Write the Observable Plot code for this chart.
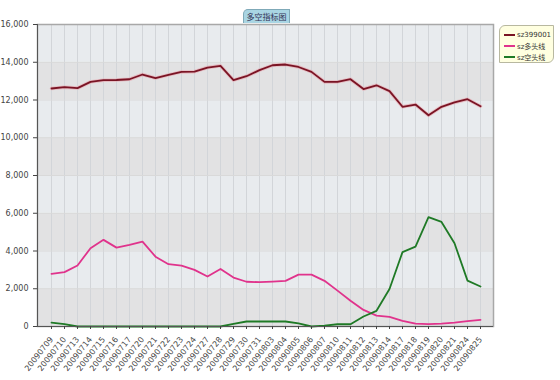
<!DOCTYPE html>
<html><head><meta charset="utf-8">
<script src="https://cdn.jsdelivr.net/npm/d3@7"></script>
<script src="https://cdn.jsdelivr.net/npm/@observablehq/plot@0.6"></script>
<style>
body{margin:0;background:#fff;}
#wrap{position:relative;width:560px;height:380px;font-family:"DejaVu Sans",sans-serif;}
#title{position:absolute;left:243px;top:9px;width:47px;height:14px;box-sizing:border-box;background:#a9d5e3;border:1px solid #7fa9b8;border-bottom:none;border-top-left-radius:5px;font:8px "Noto Sans CJK SC",sans-serif;color:#335;text-align:center;line-height:13px;}
#legend{position:absolute;left:499px;top:25px;width:55px;height:38px;box-sizing:border-box;background:#ffffe0;border:1px solid #b8b8a0;border-top-left-radius:6px;border-bottom-right-radius:6px;padding:3px 0 0 4px;}
.li{display:flex;align-items:center;height:11px;font:7px "DejaVu Sans","Noto Sans CJK SC",sans-serif;color:#333;}
.sw{display:inline-block;width:11px;height:2px;margin-right:2px;}
</style></head><body><div id="wrap"><div id="plot"></div><div id="title"></div><div id="legend"></div></div>
<script>
const titleText = "多空指标图";
const dates = ["20090709","20090710","20090713","20090714","20090715","20090716","20090717","20090720","20090721","20090722","20090723","20090724","20090727","20090728","20090729","20090730","20090731","20090803","20090804","20090805","20090806","20090807","20090810","20090811","20090812","20090813","20090814","20090817","20090818","20090819","20090820","20090821","20090824","20090825"];
const sz399001 = [12610,12680,12630,12960,13050,13060,13100,13350,13160,13330,13490,13500,13720,13810,13050,13260,13580,13840,13880,13750,13490,12960,12960,13100,12580,12780,12470,11640,11760,11190,11640,11870,12040,11670];
const duoLine = [2790,2880,3230,4150,4590,4180,4320,4500,3700,3300,3230,3000,2650,3050,2590,2370,2350,2380,2420,2750,2750,2420,1900,1360,880,580,510,300,150,130,150,210,290,350];
const kongLine = [200,130,0,0,0,0,0,0,0,0,0,0,0,0,140,265,265,265,265,160,0,50,120,120,530,830,1990,3940,4230,5790,5540,4410,2430,2120];
const yTicks = [0,2000,4000,6000,8000,10000,12000,14000,16000];
const seriesNames = ["sz399001","sz多头线","sz空头线"];
const seriesColors = ["#7a1424","#e0338c","#1f7a26"];

const seriesValues = [sz399001, duoLine, kongLine];
const rows = seriesValues.flatMap((vals, s) => vals.map((v, i) => ({date: dates[i], value: v, series: seriesNames[s]})));
const bands = yTicks.slice(0, -1).map((t, i) => ({lo: t, hi: yTicks[i + 1], dark: i % 2 === 0}));

const chart = Plot.plot({
  width: 560, height: 380,
  marginLeft: 37, marginRight: 67, marginTop: 24, marginBottom: 54,
  style: {fontFamily: "DejaVu Sans, sans-serif", background: "transparent"},
  x: {type: "point", domain: dates, padding: 0.6},
  y: {domain: [0, 16000]},
  color: {domain: seriesNames, range: seriesColors},
  marks: [
    Plot.rect(bands, {y1: "lo", y2: "hi", fill: d => d.dark ? "#e2e2e3" : "#e8ebee"}),
    Plot.ruleX(dates, {stroke: "#d2d5d9", strokeWidth: 1}),
    Plot.ruleY(yTicks, {stroke: "#d9d9d9", strokeWidth: 1}),
    Plot.frame({stroke: "#a8a8a8", strokeWidth: 1.5}),
    Plot.line(rows.filter(d => d.series === seriesNames[0]), {x: "date", y: "value", stroke: "#e7a0aa", strokeWidth: 3.5, strokeOpacity: 0.6}),
    Plot.line(rows, {x: "date", y: "value", z: "series", stroke: "series", strokeWidth: 1.8}),
    Plot.ruleY([0], {stroke: "#555"}),
    Plot.frame({anchor: "left", stroke: "#555"}),
    Plot.axisY({ticks: yTicks, tickFormat: d3.format(","), tickSize: 4, fontSize: 8, color: "#444", label: null}),
    Plot.axisX({tickRotate: -52, tickSize: 3, fontSize: 8, color: "#444", label: null})
  ]
});
document.getElementById("plot").appendChild(chart);
document.getElementById("title").textContent = titleText;
const lg = document.getElementById("legend");
seriesNames.forEach((n, i) => {
  const row = document.createElement("div");
  row.className = "li";
  row.innerHTML = `<span class="sw" style="background:${seriesColors[i]}"></span>`;
  row.appendChild(document.createTextNode(n));
  lg.appendChild(row);
});
</script>
</body></html>
